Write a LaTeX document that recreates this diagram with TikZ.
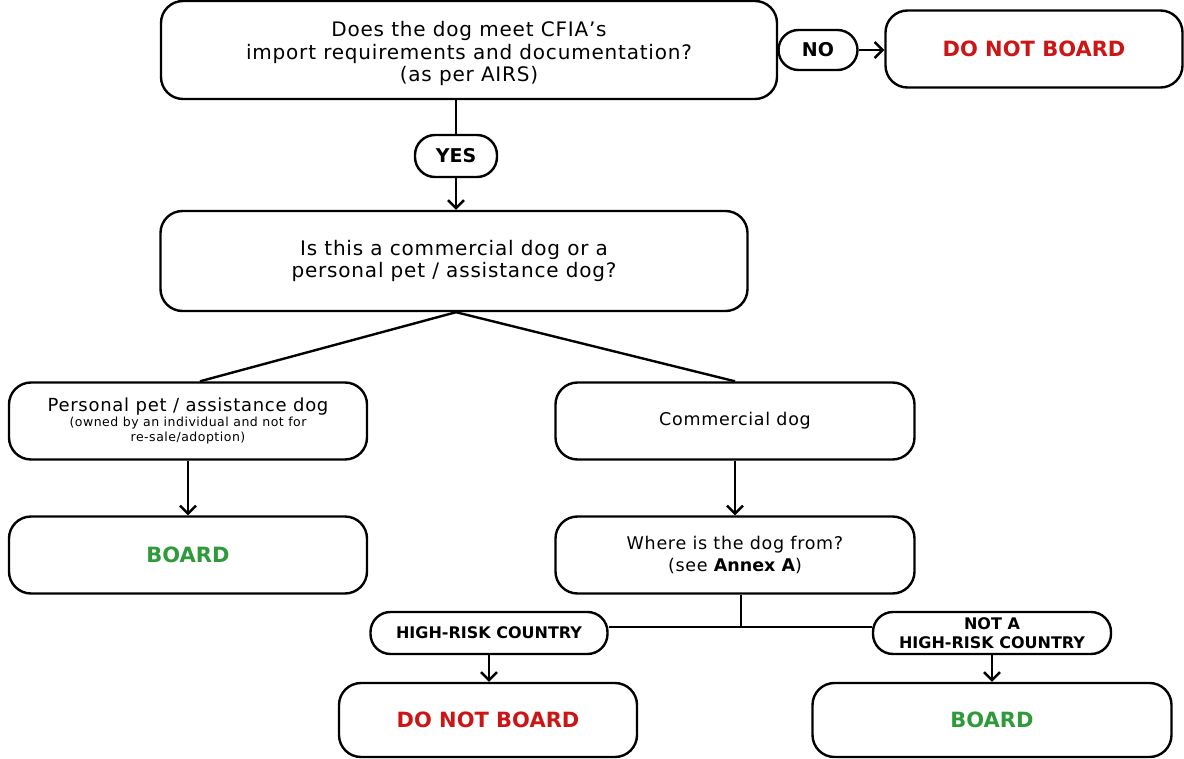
\documentclass[tikz,border=0pt]{standalone}
\usepackage{fontspec}
\setmainfont{DejaVu Sans}[LetterSpace=4]
\newfontfamily\boldface{DejaVu Sans Bold}
\usetikzlibrary{arrows.meta}
\definecolor{nored}{HTML}{CC1616}
\definecolor{yesgreen}{HTML}{2E9A3A}
\begin{document}
\begin{tikzpicture}[x=1pt,y=-1pt,
  box/.style={draw, line width=2.4pt, rounded corners=22pt, align=center, inner sep=0pt},
  pill/.style={draw, line width=2.4pt, rounded corners=20pt, align=center, inner sep=0pt, font=\boldface\fontsize{19}{21}\selectfont},
  conn/.style={line width=2.4pt},
  arr/.style={line width=2.4pt, -{Straight Barb[length=8pt,width=16pt,line width=2.4pt]}},
  big/.style={font=\fontsize{20}{22.5}\selectfont},
  mid/.style={font=\fontsize{17.5}{22}\selectfont},
  verdict/.style={font=\boldface\fontsize{21}{24}\selectfont}
]
\useasboundingbox (0,0) rectangle (1184,759);
\node[box, big, minimum width=616pt, minimum height=98pt] (q) at (469,50)
  {\rule{0pt}{23pt}Does the dog meet CFIA’s\\import requirements and documentation?\\(as per AIRS)};
\node[pill, minimum width=79pt, minimum height=40pt] (no) at (818,50) {NO};
\node[box, verdict, text=nored, minimum width=297pt, minimum height=77pt] (dnbtop) at (1034,49) {DO NOT BOARD};
\node[pill, minimum width=82pt, minimum height=42pt] (yes) at (456,156) {YES};
\node[box, big, minimum width=587pt, minimum height=100pt] (q2) at (454,261)
  {Is this a commercial dog or a\\personal pet / assistance dog?};
\node[box, font=\fontsize{12.5}{15}\selectfont, minimum width=358pt, minimum height=77pt] (personal) at (188,421)
  {\fontsize{18}{19}\selectfont Personal pet / assistance dog\\
   (owned by an individual and not for\\re-sale/adoption)};
\node[box, verdict, text=yesgreen, minimum width=358pt, minimum height=77pt] (boardl) at (188,555) {BOARD};
\node[box, mid, minimum width=359pt, minimum height=77pt] (comm) at (735,421) {Commercial dog};
\node[box, mid, minimum width=359pt, minimum height=77pt] (where) at (735,555)
  {Where is the dog from?\\(see {\boldface Annex A})};
\node[pill, font=\boldface\fontsize{16}{17}\selectfont, minimum width=237pt, minimum height=42pt] (hr) at (489,633) {HIGH-RISK COUNTRY};
\node[pill, font=\boldface\fontsize{16}{19}\selectfont, minimum width=238pt, minimum height=42pt] (nhr) at (992,633) {NOT A\\HIGH-RISK COUNTRY};
\node[box, verdict, text=nored, minimum width=298pt, minimum height=74pt] (dnbbot) at (488,720) {DO NOT BOARD};
\node[box, verdict, text=yesgreen, minimum width=359pt, minimum height=74pt] (boardr) at (992,720) {BOARD};
\draw[conn] (q.east) -- (no.west);
\draw[arr] (no.east) -- (no.east -| dnbtop.west);
\draw[conn] (yes.north |- q.south) -- (yes.north);
\draw[arr] (yes.south) -- (yes.south |- q2.north);
\draw[conn] (yes.south |- q2.south) -- ([xshift=12pt]personal.north);
\draw[conn] (yes.south |- q2.south) -- (comm.north);
\draw[arr] (personal.south) -- (boardl.north);
\draw[arr] (comm.south) -- (where.north);
\coordinate (split) at ([xshift=6pt]where.south |- 0,627);
\draw[conn] ([xshift=6pt]where.south) -- (split);
\draw[conn] ([yshift=6pt]hr.east) -- ([yshift=6pt]nhr.west);
\draw[arr] (hr.south) -- (hr.south |- dnbbot.north);
\draw[arr] (nhr.south) -- (nhr.south |- boardr.north);
\end{tikzpicture}
\end{document}
